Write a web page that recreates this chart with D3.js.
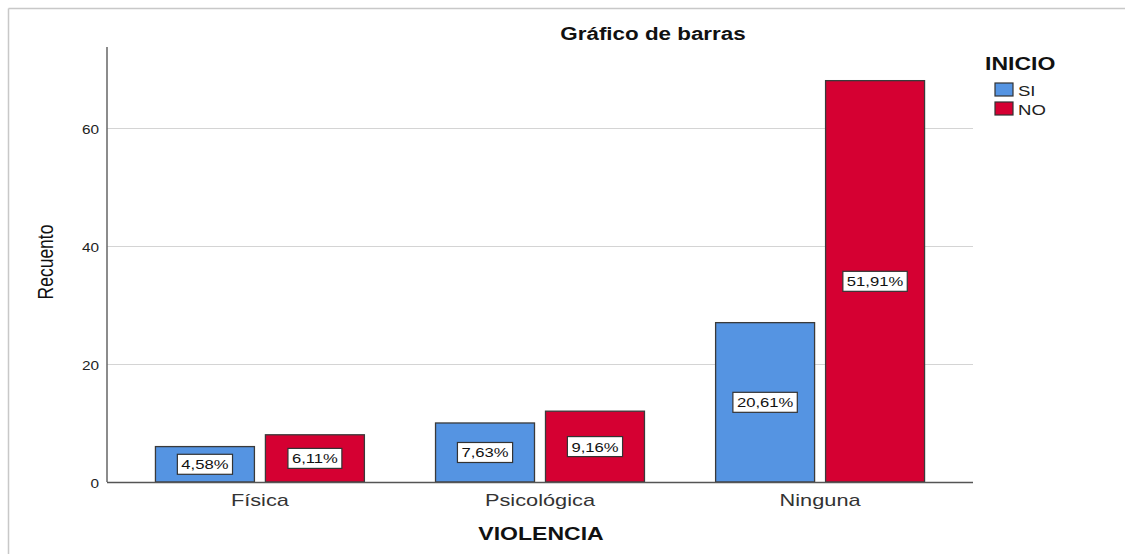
<!DOCTYPE html>
<html>
<head>
<meta charset="utf-8">
<script src="https://cdn.jsdelivr.net/npm/d3@7"></script>
<style>
  body { margin: 0; background: #fff; }
  text { font-family: "Liberation Sans", Arial, sans-serif; }
</style>
</head>
<body>
<div id="chart"></div>
<script>
// data
var categories = ["Física", "Psicológica", "Ninguna"];
var groups = ["SI", "NO"];
var valuesSI = [6, 10, 27];
var valuesNO = [8, 12, 68];
var pctSI = ["4,58%", "7,63%", "20,61%"];
var pctNO = ["6,11%", "9,16%", "51,91%"];
var yTicks = [0, 20, 40, 60];

var colors = {SI: "#5594e2", NO: "#d50032"};

var w = 1125, h = 554;
var plotLeft = 107, plotRight = 973, plotTop = 47, plotBottom = 482;
var sx = 1.28; // the original export is stretched sideways, text looks wide

var svg = d3.select("#chart").append("svg").attr("width", w).attr("height", h);

// place a text at (x,y) with the horizontal stretch
function place(sel, x, y) {
  return sel.attr("transform", "translate(" + x + "," + y + ") scale(" + sx + ",1)");
}

// outer frame (only top + left visible in the original)
svg.append("line").attr("x1", 8.5).attr("x2", w).attr("y1", 8.5).attr("y2", 8.5)
   .attr("stroke", "#c8c8c8").attr("stroke-width", 1.5);
svg.append("line").attr("x1", 8.5).attr("x2", 8.5).attr("y1", 8.5).attr("y2", h)
   .attr("stroke", "#c8c8c8").attr("stroke-width", 1.5);

var y = d3.scaleLinear().domain([0, 73.7]).range([plotBottom, plotTop]);
var x0 = d3.scaleBand().domain(categories).range([plotLeft, plotRight]).paddingInner(0.254).paddingOuter(0.173);
var x1 = d3.scaleBand().domain(groups).range([0, x0.bandwidth()]).paddingInner(0.1);

// gridlines
svg.selectAll("line.grid")
   .data(yTicks.filter(function(d){ return d > 0; }))
   .enter().append("line")
   .attr("class", "grid")
   .attr("x1", plotLeft).attr("x2", plotRight)
   .attr("y1", function(d){ return Math.round(y(d)) + 0.5; })
   .attr("y2", function(d){ return Math.round(y(d)) + 0.5; })
   .attr("stroke", "#d4d4d4").attr("stroke-width", 1);

// y tick labels
svg.selectAll("text.ytick")
   .data(yTicks)
   .enter().append("text")
   .attr("class", "ytick")
   .attr("transform", function(d){ return "translate(99," + (y(d) + 6) + ") scale(" + sx + ",1)"; })
   .attr("text-anchor", "end")
   .attr("font-size", "12px")
   .attr("fill", "#222")
   .text(function(d){ return d; });

// bars
var rows = categories.map(function(c, i){
  return [
    {cat: c, g: "SI", v: valuesSI[i], p: pctSI[i]},
    {cat: c, g: "NO", v: valuesNO[i], p: pctNO[i]}
  ];
});
var flat = [].concat.apply([], rows);

var bars = svg.selectAll("g.bar")
   .data(flat)
   .enter().append("g")
   .attr("class", "bar");

bars.append("rect")
   .attr("x", function(d){ return x0(d.cat) + x1(d.g); })
   .attr("y", function(d){ return y(d.v); })
   .attr("width", x1.bandwidth())
   .attr("height", function(d){ return plotBottom - y(d.v); })
   .attr("fill", function(d){ return colors[d.g]; })
   .attr("stroke", "#3a3a3a").attr("stroke-width", 1.3);

// percent labels in boxes
bars.each(function(d){
  var g = d3.select(this);
  var cx = x0(d.cat) + x1(d.g) + x1.bandwidth() / 2;
  var cy = (y(d.v) + plotBottom) / 2;
  var t = g.append("text")
    .attr("text-anchor", "middle")
    .attr("font-size", "13px")
    .attr("fill", "#111")
    .text(d.p);
  place(t, cx, cy + 5);
  var bw = t.node().getComputedTextLength() * sx + 8;
  g.insert("rect", "text")
    .attr("x", cx - bw / 2).attr("y", cy - 10)
    .attr("width", bw).attr("height", 20)
    .attr("fill", "#fff").attr("stroke", "#333").attr("stroke-width", 1.2);
});

// axes lines
svg.append("line").attr("x1", plotLeft).attr("x2", plotLeft).attr("y1", plotTop).attr("y2", plotBottom)
   .attr("stroke", "#666").attr("stroke-width", 1.5);
svg.append("line").attr("x1", plotLeft).attr("x2", plotRight).attr("y1", plotBottom + 0.5).attr("y2", plotBottom + 0.5)
   .attr("stroke", "#555").attr("stroke-width", 1.3);

// x tick labels
svg.selectAll("text.xtick")
   .data(categories)
   .enter().append("text")
   .attr("class", "xtick")
   .attr("transform", function(d){ return "translate(" + (x0(d) + x0.bandwidth() / 2) + ",506) scale(" + sx + ",1)"; })
   .attr("text-anchor", "middle")
   .attr("font-size", "17px")
   .attr("fill", "#333")
   .text(function(d){ return d; });

// titles
place(svg.append("text"), 653, 40)
   .attr("text-anchor", "middle")
   .attr("font-size", "17.5px").attr("font-weight", "bold")
   .attr("fill", "#111")
   .text("Gráfico de barras");

place(svg.append("text"), 541, 540)
   .attr("text-anchor", "middle")
   .attr("font-size", "18px").attr("font-weight", "bold")
   .attr("fill", "#111")
   .text("VIOLENCIA");

svg.append("text")
   .attr("transform", "translate(53,262) scale(" + sx + ",1) rotate(-90)")
   .attr("text-anchor", "middle")
   .attr("font-size", "17.5px")
   .attr("fill", "#111")
   .text("Recuento");

// legend
place(svg.append("text"), 985, 70)
   .attr("font-size", "18px").attr("font-weight", "bold")
   .attr("fill", "#111")
   .text("INICIO");

var leg = svg.selectAll("g.leg")
   .data(groups)
   .enter().append("g")
   .attr("class", "leg")
   .attr("transform", function(d, i){ return "translate(995," + (83 + i * 19) + ")"; });

leg.append("rect")
   .attr("width", 18).attr("height", 13)
   .attr("fill", function(d){ return colors[d]; })
   .attr("stroke", "#333").attr("stroke-width", 1.2);

leg.append("text")
   .attr("transform", "translate(23,13) scale(" + sx + ",1)")
   .attr("font-size", "14.5px")
   .attr("fill", "#222")
   .text(function(d){ return d; });
</script>
</body>
</html>
